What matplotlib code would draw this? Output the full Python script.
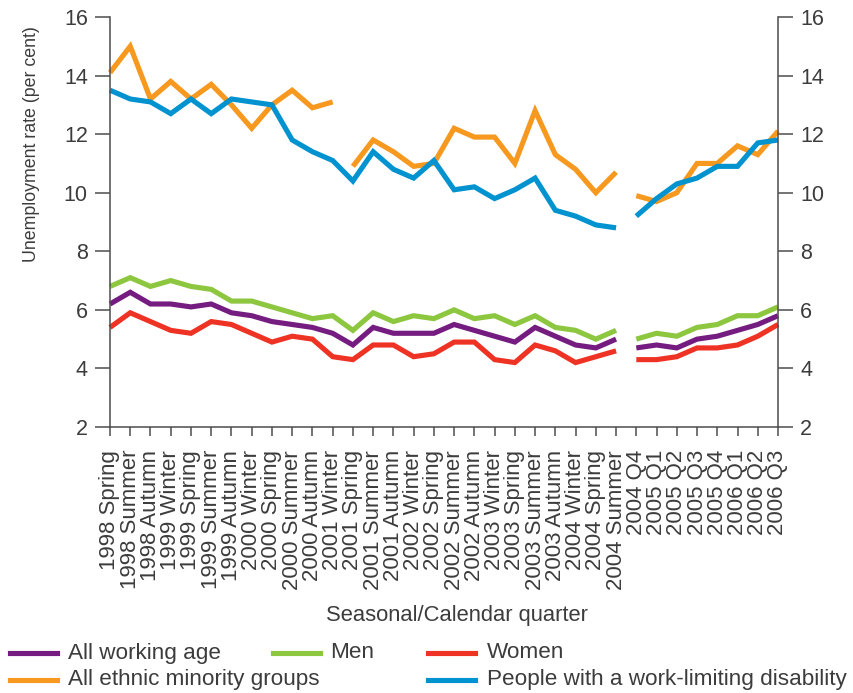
import matplotlib
matplotlib.use("Agg")
import matplotlib.pyplot as plt
from matplotlib.lines import Line2D

plt.rcParams["font.family"] = ["Liberation Sans", "DejaVu Sans"]

quarters = [
    "1998 Spring", "1998 Summer", "1998 Autumn", "1999 Winter", "1999 Spring",
    "1999 Summer", "1999 Autumn", "2000 Winter", "2000 Spring", "2000 Summer",
    "2000 Autumn", "2001 Winter", "2001 Spring", "2001 Summer", "2001 Autumn",
    "2002 Winter", "2002 Spring", "2002 Summer", "2002 Autumn", "2003 Winter",
    "2003 Spring", "2003 Summer", "2003 Autumn", "2004 Winter", "2004 Spring",
    "2004 Summer", "2004 Q4", "2005 Q1", "2005 Q2", "2005 Q3", "2005 Q4",
    "2006 Q1", "2006 Q2", "2006 Q3",
]

all_working_age = [6.2, 6.6, 6.2, 6.2, 6.1, 6.2, 5.9, 5.8, 5.6, 5.5, 5.4, 5.2, 4.8,
                   5.4, 5.2, 5.2, 5.2, 5.5, 5.3, 5.1, 4.9, 5.4, 5.1, 4.8, 4.7, 5.0,
                   4.7, 4.8, 4.7, 5.0, 5.1, 5.3, 5.5, 5.8]
men = [6.8, 7.1, 6.8, 7.0, 6.8, 6.7, 6.3, 6.3, 6.1, 5.9, 5.7, 5.8, 5.3,
       5.9, 5.6, 5.8, 5.7, 6.0, 5.7, 5.8, 5.5, 5.8, 5.4, 5.3, 5.0, 5.3,
       5.0, 5.2, 5.1, 5.4, 5.5, 5.8, 5.8, 6.1]
women = [5.4, 5.9, 5.6, 5.3, 5.2, 5.6, 5.5, 5.2, 4.9, 5.1, 5.0, 4.4, 4.3,
         4.8, 4.8, 4.4, 4.5, 4.9, 4.9, 4.3, 4.2, 4.8, 4.6, 4.2, 4.4, 4.6,
         4.3, 4.3, 4.4, 4.7, 4.7, 4.8, 5.1, 5.5]
ethnic_minority = [14.1, 15.0, 13.2, 13.8, 13.2, 13.7, 13.0, 12.2, 13.0, 13.5, 12.9, 13.1,
                   10.9, 11.8, 11.4, 10.9, 11.0, 12.2, 11.9, 11.9, 11.0, 12.8, 11.3, 10.8,
                   10.0, 10.7, 9.9, 9.7, 10.0, 11.0, 11.0, 11.6, 11.3, 12.1]
disability = [13.5, 13.2, 13.1, 12.7, 13.2, 12.7, 13.2, 13.1, 13.0, 11.8, 11.4, 11.1,
              10.4, 11.4, 10.8, 10.5, 11.1, 10.1, 10.2, 9.8, 10.1, 10.5, 9.4, 9.2,
              8.9, 8.8, 9.2, 9.8, 10.3, 10.5, 10.9, 10.9, 11.7, 11.8]

# series break after these indices (seasonal -> calendar quarters)
breaks = [25]
ethnic_breaks = [11, 25]

series = [
    ("All working age", all_working_age, "#751c80", breaks),
    ("Men", men, "#8dc63f", breaks),
    ("Women", women, "#ee3224", breaks),
    ("All ethnic minority groups", ethnic_minority, "#f7981f", ethnic_breaks),
    ("People with a work-limiting disability", disability, "#0093cf", breaks),
]

text_col = "#3c3c3c"
spine_col = "#4d4d4d"

fig = plt.figure(figsize=(8.54, 6.93), dpi=100)
ax = fig.add_axes([110 / 854, 1 - 427 / 693, 668 / 854, 410 / 693])

x = list(range(len(quarters)))
for name, vals, col, brk in series:
    starts = [0] + [b + 1 for b in brk]
    ends = [b + 1 for b in brk] + [len(vals)]
    for s, e in zip(starts, ends):
        ax.plot(x[s:e], vals[s:e], color=col, lw=3.7, solid_joinstyle="miter",
                solid_capstyle="butt", clip_on=False)

ax.set_xlim(0, len(quarters) - 1)
ax.set_ylim(2, 16)
ax.set_yticks(range(2, 17, 2))
ax.set_xticks(x)
ax.set_xticklabels(quarters, rotation=90, fontsize=16, color=text_col)
ax.tick_params(axis="y", which="both", left=True, right=True, labelleft=True,
               labelright=True, length=11, width=1.1, color=spine_col,
               labelsize=15.5, labelcolor=text_col, pad=5)
ax.tick_params(axis="x", length=6.5, width=1.1, color=spine_col, pad=10)

ax.spines["top"].set_visible(False)
for side in ["left", "right", "bottom"]:
    ax.spines[side].set_color(spine_col)
    ax.spines[side].set_linewidth(1.1)

fig.text(32 / 854, 1 - 144 / 693, "Unemployment rate (per cent)", rotation=90,
         ha="center", va="center", fontsize=12.8, color=text_col)
fig.text(457 / 854, 1 - 615 / 693, "Seasonal/Calendar quarter",
         ha="center", va="center", fontsize=15.8, color=text_col)

# legend laid out by hand (3 columns, second row has no middle entry)
legend_pos = [
    (10, 653, 68), (273, 653, 330), (428, 653, 487),
    (10, 680, 68), (428, 680, 487),
]
legend_items = [series[0], series[1], series[2], series[3], series[4]]
for (lx, ly, tx), (name, vals, col, brk) in zip(legend_pos, legend_items):
    fig.add_artist(Line2D([lx / 854, (lx + 47) / 854], [1 - ly / 693, 1 - ly / 693],
                          color=col, lw=3.7, transform=fig.transFigure))
    fig.text(tx / 854, 1 - ly / 693, name, ha="left", va="center",
             fontsize=16.2, color=text_col)

fig.savefig("out.png", dpi=100)
